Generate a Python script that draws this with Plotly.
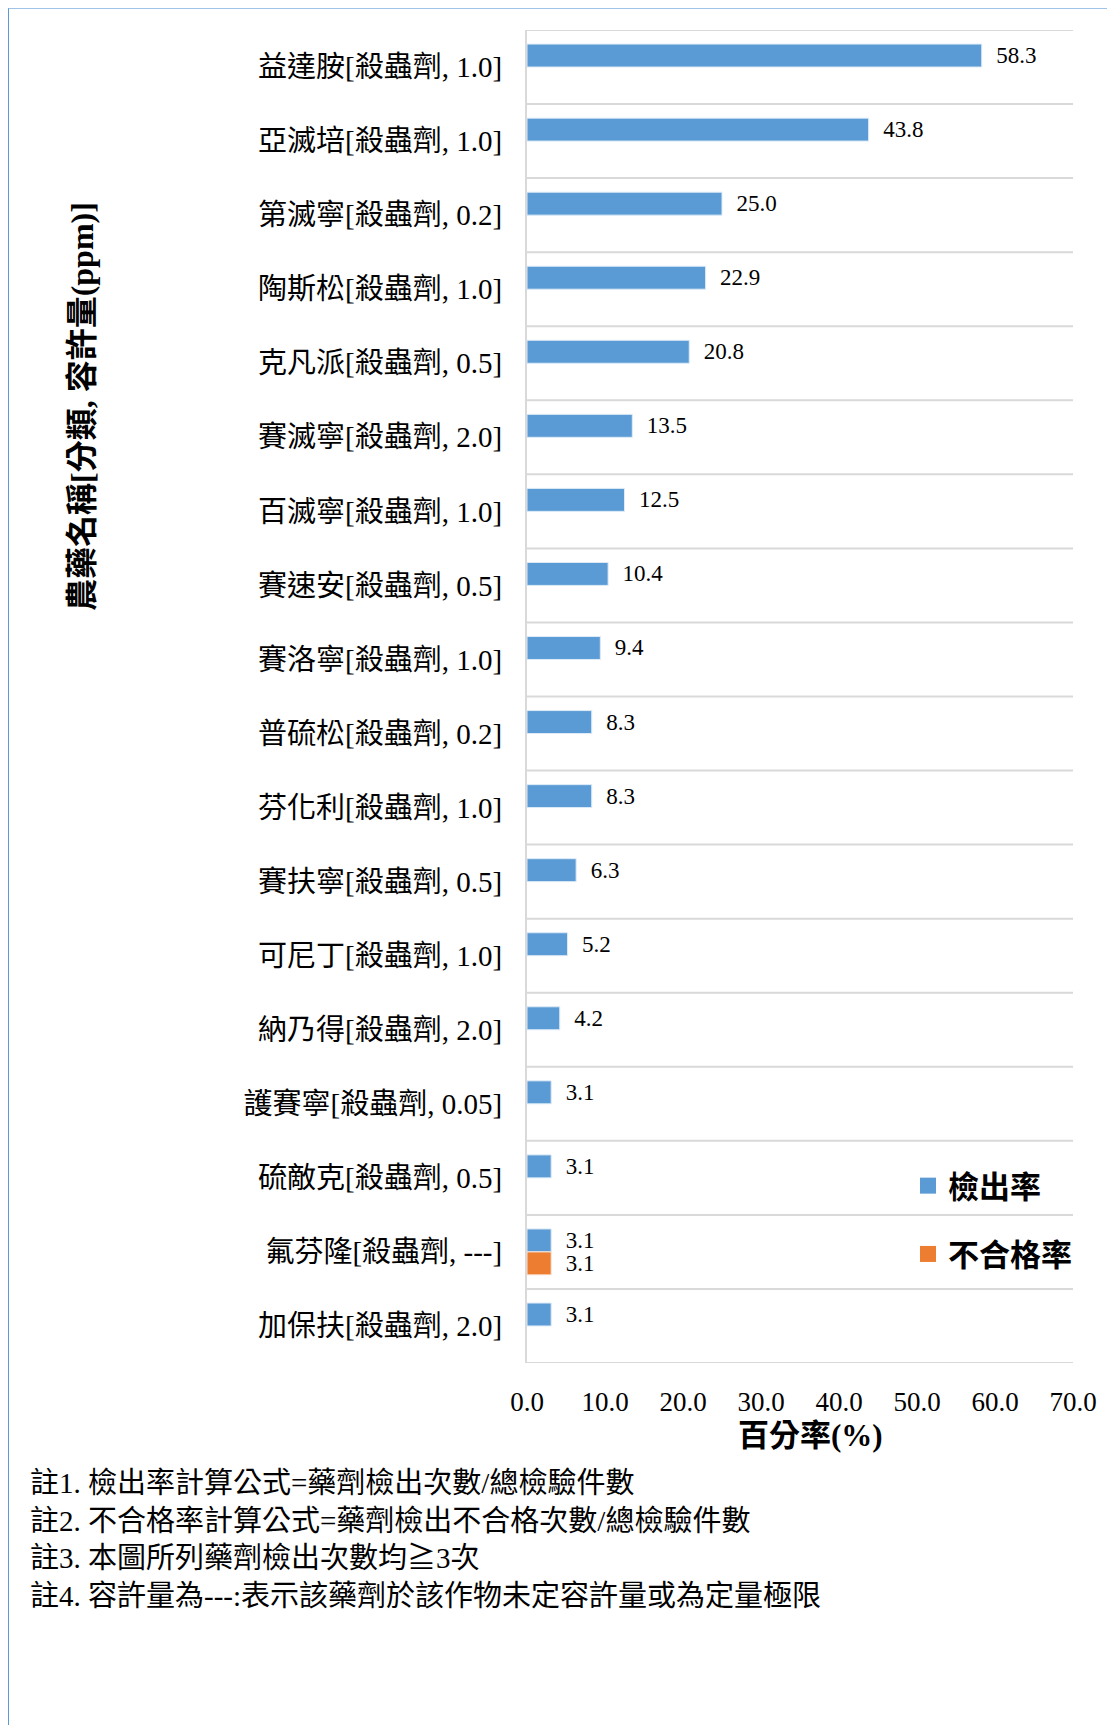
import plotly.graph_objects as go

# ---------------- data ----------------
categories = [
    "益達胺[殺蟲劑, 1.0]",
    "亞滅培[殺蟲劑, 1.0]",
    "第滅寧[殺蟲劑, 0.2]",
    "陶斯松[殺蟲劑, 1.0]",
    "克凡派[殺蟲劑, 0.5]",
    "賽滅寧[殺蟲劑, 2.0]",
    "百滅寧[殺蟲劑, 1.0]",
    "賽速安[殺蟲劑, 0.5]",
    "賽洛寧[殺蟲劑, 1.0]",
    "普硫松[殺蟲劑, 0.2]",
    "芬化利[殺蟲劑, 1.0]",
    "賽扶寧[殺蟲劑, 0.5]",
    "可尼丁[殺蟲劑, 1.0]",
    "納乃得[殺蟲劑, 2.0]",
    "護賽寧[殺蟲劑, 0.05]",
    "硫敵克[殺蟲劑, 0.5]",
    "氟芬隆[殺蟲劑, ---]",
    "加保扶[殺蟲劑, 2.0]",
]
detect_rate = [58.3, 43.8, 25.0, 22.9, 20.8, 13.5, 12.5, 10.4, 9.4,
               8.3, 8.3, 6.3, 5.2, 4.2, 3.1, 3.1, 3.1, 3.1]
fail_rate = [None, None, None, None, None, None, None, None, None,
             None, None, None, None, None, None, None, 3.1, None]
series_names = ["檢出率", "不合格率"]
x_ticks = [0, 10, 20, 30, 40, 50, 60, 70]
x_title = "百分率(%)"
y_title = "農藥名稱[分類, 容許量(ppm)]"
notes = [
    "註1. 檢出率計算公式=藥劑檢出次數/總檢驗件數",
    "註2. 不合格率計算公式=藥劑檢出不合格次數/總檢驗件數",
    "註3. 本圖所列藥劑檢出次數均≧3次",
    "註4. 容許量為---:表示該藥劑於該作物未定容許量或為定量極限",
]

# ---------------- layout constants (pixels) ----------------
OFF = 8  # page body margin
W, H = 1115 - OFF, 1725 - OFF
L, R, T, B = 527 - OFF, 1073 - OFF, 30 - OFF, 1363 - OFF
FONT = "Liberation Serif, Noto Sans CJK TC, serif"
BLUE = "#5B9BD5"
ORANGE = "#ED7D31"
GRID = "#D9D9D9"
COLORS = [BLUE, ORANGE]
EDGES = ["#DDEBF7", "#FBE5D6"]


def px_x(x):
    return (x - OFF - L) / (R - L)


def px_y(y):
    return 1 - (y - OFF - T) / (B - T)


def lab(v):
    return "" if v is None else "\u00a0\u00a0" + f"{v:.1f}"


fig = go.Figure()
for name, vals, col, edge in zip(series_names, [detect_rate, fail_rate],
                                 COLORS, EDGES):
    fig.add_trace(go.Bar(
        y=categories, x=vals, orientation="h", name=name,
        marker=dict(color=col, line=dict(color=edge, width=1)),
        text=[lab(v) for v in vals], textposition="outside",
        textfont=dict(family=FONT, size=23, color="#000000"),
        constraintext="none", cliponaxis=False, showlegend=False,
    ))
# legend entries (square swatches)
for i, (name, col) in enumerate(zip(series_names, COLORS)):
    fig.add_trace(go.Scatter(
        x=[None], y=[None], mode="markers", name=name,
        marker=dict(color=col, symbol="square", size=16),
        legendgroup=f"g{i}", showlegend=True, hoverinfo="skip",
    ))

n = len(categories)
shapes = []
for i in range(n + 1):
    shapes.append(dict(type="line", xref="paper", yref="y", x0=0, x1=1,
                       y0=i - 0.5, y1=i - 0.5,
                       line=dict(color=GRID, width=2), layer="below"))
# outer frame
shapes.append(dict(type="line", xref="paper", yref="paper",
                   x0=px_x(8), x1=px_x(8), y0=px_y(1760), y1=px_y(8),
                   line=dict(color="#5B9BD5", width=2), layer="below"))
shapes.append(dict(type="line", xref="paper", yref="paper",
                   x0=px_x(8), x1=px_x(1114), y0=px_y(8), y1=px_y(8),
                   line=dict(color="#7EAEE0", width=1.5), layer="below"))
shapes.append(dict(type="line", xref="paper", yref="paper",
                   x0=px_x(1113.5), x1=px_x(1113.5), y0=px_y(1760), y1=px_y(8),
                   line=dict(color="#7EAEE0", width=2), layer="below"))

annotations = [
    dict(text=y_title, xref="paper", yref="paper", x=px_x(82), y=px_y(407),
         textangle=-90, showarrow=False, xanchor="center", yanchor="middle",
         font=dict(family=FONT, size=32, color="#000000", weight="bold")),
    dict(text=x_title, xref="paper", yref="paper", x=px_x(810), y=px_y(1435),
         showarrow=False, xanchor="center", yanchor="middle",
         font=dict(family=FONT, size=31, color="#000000", weight="bold")),
]
note_y = [1483, 1521, 1558, 1596]
for t, yy in zip(notes, note_y):
    annotations.append(dict(text=t, xref="paper", yref="paper",
                            x=px_x(28), y=px_y(yy), showarrow=False,
                            xanchor="left", yanchor="middle",
                            font=dict(family=FONT, size=29, color="#000000")))

fig.update_layout(
    width=W, height=H,
    margin=dict(l=L, r=W - R, t=T, b=H - B, pad=0),
    paper_bgcolor="white", plot_bgcolor="white",
    barmode="group", bargap=0.38, bargroupgap=0,
    font=dict(family=FONT, color="#000000"),
    shapes=shapes, annotations=annotations,
    legend=dict(x=px_x(908), y=px_y(1159), xanchor="left", yanchor="top",
                font=dict(family=FONT, size=31, color="#000000", weight="bold"),
                bgcolor="rgba(0,0,0,0)", tracegroupgap=25,
                traceorder="grouped", itemwidth=30),
    xaxis=dict(range=[0, 70], tickvals=x_ticks, tickformat=".1f",
               showgrid=False, zeroline=False, showline=False,
               ticks="", ticklabelstandoff=20,
               tickfont=dict(family=FONT, size=27, color="#000000")),
    yaxis=dict(range=[n - 0.5, -0.5], type="category",
               categoryorder="array", categoryarray=categories,
               showgrid=False, zeroline=False, showline=True,
               linecolor=GRID, linewidth=2, ticks="",
               ticklabelstandoff=17,
               tickfont=dict(family=FONT, size=29, color="#000000")),
)

fig.write_html("out.html")
